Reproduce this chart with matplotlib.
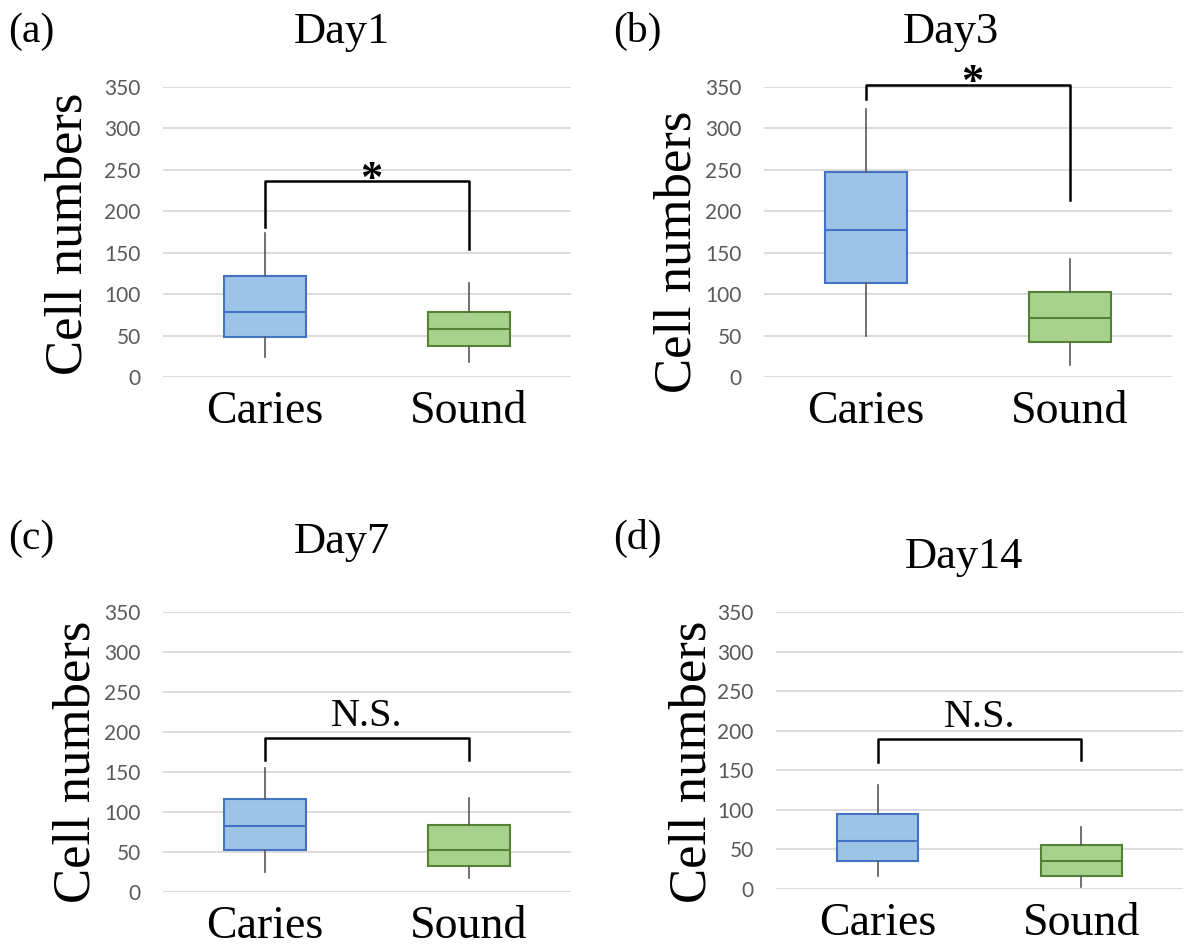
import matplotlib
matplotlib.use("Agg")
import matplotlib.pyplot as plt

days = ["Day1", "Day3", "Day7", "Day14"]
panel_tags = ["(a)", "(b)", "(c)", "(d)"]
groups = ["Caries", "Sound"]
yticks = [0, 50, 100, 150, 200, 250, 300, 350]

# box plot stats
caries_whislo = [24, 50, 25, 16]
caries_q1 = [48, 113, 52, 35]
caries_med = [78, 177, 82, 61]
caries_q3 = [122, 248, 116, 95]
caries_whishi = [174, 324, 155, 132]

sound_whislo = [18, 15, 17, 3]
sound_q1 = [37, 42, 33, 17]
sound_med = [58, 71, 53, 36]
sound_q3 = [79, 103, 84, 56]
sound_whishi = [113, 143, 118, 78]

# significance brackets
bracket_top = [236, 353, 193, 190]
bracket_left = [181, 336, 165, 161]
bracket_right = [155, 214, 165, 163]
sig_marks = ["*", "*", "N.S.", "N.S."]

W, H = 1189, 948
SERIF = ["Liberation Serif", "DejaVu Serif"]

fig = plt.figure(figsize=(W / 100, H / 100), dpi=100)
fig.patch.set_facecolor("white")


def rect(l, t, r, b):
    return [l / W, 1 - b / H, (r - l) / W, (b - t) / H]


def fx(x):
    return x / W


def fy(y):
    return 1 - y / H


# axes boxes in pixels (left, top, right, bottom)
ax_px = [(163, 87, 571, 377), (764, 87, 1172, 377),
         (163, 612, 571, 892), (776, 612, 1183, 889)]
title_px = [(342, 43), (951, 43), (342, 553), (964, 568)]
tag_px = [(8, 42), (613, 42), (8, 549), (613, 549)]
ylab_px = [(81, 234), (690, 252), (90, 762), (706, 762)]

fill_cols = ["#9DC3E6", "#A9D18E"]
edge_cols = ["#4472C4", "#548235"]

for i in range(4):
    ax = fig.add_axes(rect(*ax_px[i]))
    stats = [
        dict(whislo=caries_whislo[i], q1=caries_q1[i], med=caries_med[i],
             q3=caries_q3[i], whishi=caries_whishi[i], fliers=[]),
        dict(whislo=sound_whislo[i], q1=sound_q1[i], med=sound_med[i],
             q3=sound_q3[i], whishi=sound_whishi[i], fliers=[]),
    ]
    bp = ax.bxp(stats, positions=[0, 1], widths=0.4, patch_artist=True,
                showcaps=False, showfliers=False,
                whiskerprops=dict(color="#595959", lw=1.2),
                zorder=3)
    for j, box in enumerate(bp["boxes"]):
        box.set_facecolor(fill_cols[j])
        box.set_edgecolor(edge_cols[j])
        box.set_linewidth(1.5)
        bp["medians"][j].set_color(edge_cols[j])
        bp["medians"][j].set_linewidth(1.5)

    ax.set_xlim(-0.5, 1.5)
    ax.set_ylim(0, 350)
    ax.set_yticks(yticks)
    ax.grid(axis="y", color="#D9D9D9", lw=1.3, zorder=0)
    ax.set_axisbelow(True)
    for s in ax.spines.values():
        s.set_visible(False)
    ax.tick_params(axis="y", length=0, pad=16, labelsize=15, labelcolor="#595959")
    ax.tick_params(axis="x", length=0, pad=10)
    for lab in ax.get_yticklabels():
        lab.set_family(["Lato", "DejaVu Sans"])
    ax.set_xticks([0, 1])
    ax.set_xticklabels(groups, fontsize=33, family=SERIF)

    # bracket
    ax.plot([0, 0, 1, 1], [bracket_left[i], bracket_top[i], bracket_top[i], bracket_right[i]],
            color="black", lw=1.8, clip_on=False, zorder=4)
    if sig_marks[i] == "*":
        ax.text(0.52, bracket_top[i] - 12, "*", ha="center", va="baseline",
                fontsize=32, fontweight="bold", family=SERIF, clip_on=False)
    else:
        ax.text(0.5, bracket_top[i] + 15, sig_marks[i], ha="center", va="baseline",
                fontsize=29, family=SERIF)

    fig.text(fx(title_px[i][0]), fy(title_px[i][1]), days[i], ha="center",
             va="baseline", fontsize=32, family=SERIF)
    fig.text(fx(tag_px[i][0]), fy(tag_px[i][1]), panel_tags[i], ha="left",
             va="baseline", fontsize=30, family=SERIF)
    fig.text(fx(ylab_px[i][0]), fy(ylab_px[i][1]), "Cell numbers", rotation=90,
             rotation_mode="anchor", ha="center", va="baseline",
             fontsize=38, family=SERIF)

fig.savefig("out.png", dpi=100, facecolor="white")
